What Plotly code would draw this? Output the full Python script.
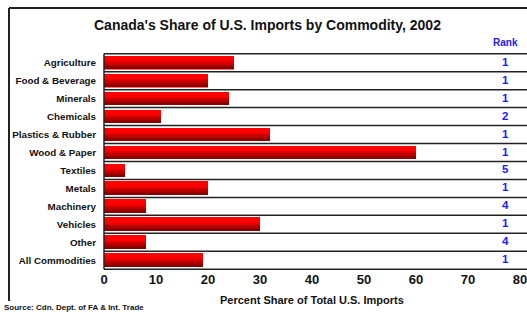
import plotly.graph_objects as go

categories = ["Agriculture", "Food & Beverage", "Minerals", "Chemicals", "Plastics & Rubber",
              "Wood & Paper", "Textiles", "Metals", "Machinery", "Vehicles", "Other", "All Commodities"]
share = [25, 20, 24, 11, 32, 60, 4, 20, 8, 30, 8, 19]
rank = ["1", "1", "1", "2", "1", "1", "5", "1", "4", "1", "4", "1"]
x_ticks = [0, 10, 20, 30, 40, 50, 60, 70, 80]

FONT = "Arial, Liberation Sans, sans-serif"
W, H = 527, 312
L, R, T, B = 104, 7, 53, 42

fig = go.Figure()

# shadow / outline bar
fig.add_trace(go.Bar(
    y=categories, x=share, orientation="h", width=0.74, offset=-0.36,
    marker=dict(color="#ff7070", line=dict(width=0)), hoverinfo="skip", showlegend=False))

# gradient strips (top bright red -> bottom dark red)
N = 10
bw = 0.72
for k in range(N):
    t = (k + 0.5) / N
    if t < 0.35:
        r = 255
    else:
        r = int(round(255 - (t - 0.35) / 0.65 * 130))
    fig.add_trace(go.Bar(
        y=categories, x=share, orientation="h",
        width=bw / N + 0.002, offset=-0.36 + k * bw / N,
        marker=dict(color=f"rgb({r},0,0)", line=dict(width=0)),
        hoverinfo="skip", showlegend=False))

shapes = []
n = len(categories)
# row separators
for i in range(n + 1):
    shapes.append(dict(type="line", xref="paper", yref="y", x0=0, x1=1.02,
                       y0=i - 0.5, y1=i - 0.5, line=dict(color="#222222", width=1.5)))
# left axis line
shapes.append(dict(type="line", xref="paper", yref="y", x0=0, x1=0,
                   y0=-0.5, y1=n - 0.5, line=dict(color="#222222", width=1.5)))
# outer frame
pw, ph = W - L - R, H - T - B
def px(x): return (x - L) / pw
def py(y): return (H - B - y) / ph
shapes.append(dict(type="line", xref="paper", yref="paper", x0=px(9), x1=px(527),
                   y0=py(8), y1=py(8), line=dict(color="#222222", width=2)))
shapes.append(dict(type="line", xref="paper", yref="paper", x0=px(9), x1=px(9),
                   y0=py(8), y1=py(301), line=dict(color="#222222", width=2)))

annotations = []
for c, rk in zip(categories, rank):
    annotations.append(dict(x=px(505), y=c, xref="paper", yref="y", text=f"<b>{rk}</b>",
                            showarrow=False,
                            font=dict(family=FONT, size=11.5, color="#1a1aff"), xanchor="center",
                            yshift=1))
annotations.append(dict(x=px(505), y=py(43), xref="paper", yref="paper", text="<b>Rank</b>",
                        showarrow=False, font=dict(family=FONT, size=10, color="#1a1aff"),
                        xanchor="center", yanchor="middle"))
annotations.append(dict(x=px(267), y=py(25), xref="paper", yref="paper",
                        text="<b>Canada's Share of U.S. Imports by Commodity, 2002</b>",
                        showarrow=False, font=dict(family=FONT, size=14, color="#111111"),
                        xanchor="center", yanchor="middle"))
annotations.append(dict(x=px(312), y=py(300), xref="paper", yref="paper",
                        text="<b>Percent Share of Total U.S. Imports</b>",
                        showarrow=False, font=dict(family=FONT, size=11, color="#111111"),
                        xanchor="center", yanchor="middle"))
annotations.append(dict(x=px(2), y=py(307), xref="paper", yref="paper",
                        text="<b>Source: Cdn. Dept. of FA & Int. Trade</b>",
                        showarrow=False, font=dict(family=FONT, size=8, color="#111111"),
                        xanchor="left", yanchor="middle"))

fig.update_layout(
    width=W, height=H, margin=dict(l=L, r=R, t=T, b=B, pad=0, autoexpand=False),
    paper_bgcolor="white", plot_bgcolor="white", barmode="overlay", bargap=0,
    showlegend=False, shapes=shapes, annotations=annotations,
    font=dict(family=FONT, color="#111111"),
    xaxis=dict(range=[0, 80], tickvals=x_ticks, ticktext=[f"<b>{v}</b>" for v in x_ticks],
               showgrid=False, zeroline=False, showline=False, automargin=False,
               anchor="free", position=4 / ph,
               ticks="outside", ticklen=1, tickcolor="rgba(0,0,0,0)",
               ticklabeloverflow="allow",
               tickfont=dict(family=FONT, size=13, color="#111111")),
    yaxis=dict(categoryorder="array", categoryarray=categories, autorange="reversed",
               domain=[0, 1],
               tickvals=categories, ticktext=[f"<b>{c}</b>" for c in categories],
               showgrid=False, zeroline=False, showline=False, automargin=False,
               ticks="outside", ticklen=5, tickcolor="rgba(0,0,0,0)",
               tickfont=dict(family=FONT, size=9.8, color="#111111")),
)
fig.write_html("out.html", config={"displayModeBar": False},
               post_script="document.body.style.margin='0';")
